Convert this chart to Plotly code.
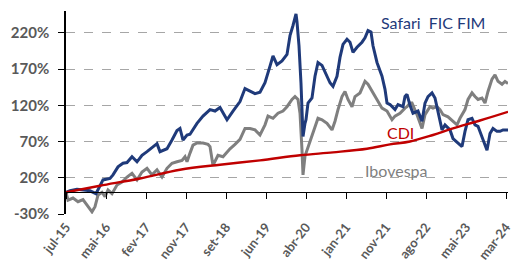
import plotly.graph_objects as go

# ---- data (x = trading-day index since jul-15, y = cumulative return in %) ----
tick_labels = ["jul-15", "mai-16", "fev-17", "nov-17", "set-18", "jun-19",
               "abr-20", "jan-21", "nov-21", "ago-22", "mai-23", "mar-24"]
tick_days = [0, 200, 400, 600, 800, 1000, 1200, 1400, 1600, 1800, 2000, 2200]

safari_days = [0, 20, 55, 85, 120, 150, 170, 185, 220, 235, 260, 285, 305, 330, 355, 380, 405, 430,
               455, 470, 505, 530, 555, 570, 585, 605, 620, 655, 685, 720, 745, 770, 805, 835, 870,
               895, 920, 945, 970, 995, 1020, 1035, 1055, 1080, 1105, 1120, 1135, 1150, 1155, 1165,
               1175, 1180, 1185, 1195, 1200, 1210, 1230, 1245, 1260, 1280, 1295, 1320, 1335, 1355,
               1370, 1385, 1405, 1420, 1435, 1455, 1480, 1495, 1510, 1525, 1535, 1555, 1580, 1595,
               1605, 1620, 1645, 1660, 1685, 1695, 1705, 1720, 1735, 1760, 1780, 1795, 1810, 1830,
               1845, 1860, 1880, 1895, 1920, 1935, 1960, 1980, 1995, 2010, 2030, 2045, 2060, 2080,
               2105, 2120, 2135, 2155, 2170, 2185, 2210]
safari_vals = [0, 2, 4, 3, 2, -2, 8, 17, 19, 24, 35, 40, 41, 49, 42, 51, 56, 61,
               67, 56, 60, 72, 85, 88, 72, 79, 80, 95, 105, 114, 112, 117, 100, 112, 125,
               143, 140, 136, 138, 151, 174, 188, 176, 181, 190, 216, 230, 246, 235, 202,
               150, 100, 77, 95, 100, 123, 130, 160, 179, 175, 165, 151, 146, 160,
               186, 204, 211, 207, 193, 200, 207, 213, 223, 221, 202, 179, 160, 142,
               123, 121, 114, 121, 118, 132, 135, 120, 109, 112, 98, 123, 132, 137,
               130, 109, 86, 93, 86, 74, 68, 63, 84, 100, 102, 93, 91, 77,
               58, 81, 88, 84, 84, 86, 86]

ibov_days = [0, 10, 35, 60, 85, 110, 130, 145, 160, 180, 195, 210, 230, 255, 280, 305, 330, 355,
             380, 405, 430, 455, 480, 505, 530, 555, 580, 595, 605, 620, 635, 655, 685, 710, 720,
             735, 760, 785, 820, 845, 870, 895, 920, 945, 970, 995, 1010, 1035, 1060, 1085, 1105,
             1130, 1145, 1160, 1170, 1180, 1185, 1195, 1210, 1230, 1245, 1260, 1280, 1305, 1330,
             1345, 1360, 1380, 1395, 1410, 1430, 1445, 1470, 1495, 1510, 1535, 1555, 1580, 1605,
             1630, 1645, 1670, 1695, 1705, 1720, 1730, 1755, 1780, 1795, 1820, 1835, 1855, 1870,
             1885, 1910, 1935, 1955, 1970, 1995, 2010, 2030, 2045, 2060, 2080, 2095, 2110, 2130,
             2145, 2160, 2180, 2195, 2210]
ibov_vals = [0, -11, -8, -13, -10, -20, -27, -20, -4, 0, -6, 3, -2, 10, 14, 21, 26, 17,
             28, 33, 24, 31, 21, 33, 40, 42, 44, 49, 42, 54, 65, 68, 68, 66, 63,
             37, 51, 49, 60, 66, 73, 88, 88, 86, 79, 93, 105, 102, 109, 112, 118,
             128, 132, 128, 109, 58, 24, 50, 62, 79, 91, 102, 100, 95, 86,
             98, 114, 132, 139, 128, 118, 132, 137, 153, 149, 137, 128, 116, 112,
             100, 105, 109, 116, 118, 123, 123, 107, 88, 107, 118, 116, 118, 114,
             107, 104, 98, 93, 102, 114, 128, 137, 132, 128, 130, 123, 139, 156,
             162, 153, 149, 153, 150]

cdi_days = [0, 170, 370, 570, 770, 970, 1170, 1335, 1505, 1620, 1720, 1835, 1935, 2070, 2210]
cdi_vals = [0, 9, 19, 31, 38, 44, 51, 55, 60, 66, 70, 79, 88, 99, 111]

y_ticks = [-30, 20, 70, 120, 170, 220]
y_range = [-30, 250]
x_range = [0, 2210]

NAVY = "#1F3A7A"
GRAY = "#7F7F7F"
RED = "#C00000"
LABEL = "#595959"
FONT = "Lato"

fig = go.Figure()
fig.add_trace(go.Scatter(x=ibov_days, y=ibov_vals, mode="lines",
                         line=dict(color=GRAY, width=3), name="Ibovespa"))
fig.add_trace(go.Scatter(x=cdi_days, y=cdi_vals, mode="lines", xaxis="x2",
                         line=dict(color=RED, width=2.4, shape="spline"), name="CDI"))
fig.add_trace(go.Scatter(x=safari_days, y=safari_vals, mode="lines",
                         line=dict(color=NAVY, width=3), name="Safari FIC FIM"))

zero_pos = (0 - y_range[0]) / (y_range[1] - y_range[0])

fig.update_layout(
    width=511, height=262,
    margin=dict(l=66, r=3, t=11, b=48, autoexpand=False),
    paper_bgcolor="white", plot_bgcolor="white",
    showlegend=False,
    xaxis=dict(range=x_range, tickmode="array", tickvals=tick_days, ticktext=tick_labels,
               tickangle=-52, showgrid=False, zeroline=False, showline=False, ticks="",
               automargin=False, ticklabelstandoff=2, ticklabeloverflow="allow",
               tickfont=dict(family=FONT, size=13, color=LABEL, weight="bold")),
    xaxis2=dict(range=x_range, overlaying="x", anchor="free", position=zero_pos,
                tickmode="array", tickvals=tick_days, showticklabels=False, automargin=False,
                showgrid=False, zeroline=False, showline=True, linecolor="black", linewidth=1.3,
                ticks="outside", ticklen=6, tickcolor="black", tickwidth=1.3),
    yaxis=dict(range=y_range, tickmode="array", tickvals=y_ticks,
               ticktext=[f"{v}%" for v in y_ticks], automargin=False,
               showgrid=True, gridcolor="#A6A6A6", griddash="dash", gridwidth=1.2,
               zeroline=False, showline=True, linecolor="black", linewidth=1.5,
               ticks="outside", ticklen=6, tickcolor="black", tickwidth=1.3,
               ticklabelstandoff=6,
               tickfont=dict(family=FONT, size=15, color=LABEL, weight="bold")),
    annotations=[
        dict(x=1835, y=234, xref="x", yref="y", text="Safari  FIC FIM", showarrow=False,
             font=dict(family=FONT, size=16, color=NAVY)),
        dict(x=1670, y=82, xref="x", yref="y", text="CDI", showarrow=False,
             font=dict(family=FONT, size=16, color=RED)),
        dict(x=1650, y=30, xref="x", yref="y", text="Ibovespa", showarrow=False,
             font=dict(family=FONT, size=16, color=GRAY)),
    ],
)

fig.write_html("out.html", config={"displayModeBar": False},
               post_script="document.body.style.margin='0';document.body.style.overflow='hidden';")
